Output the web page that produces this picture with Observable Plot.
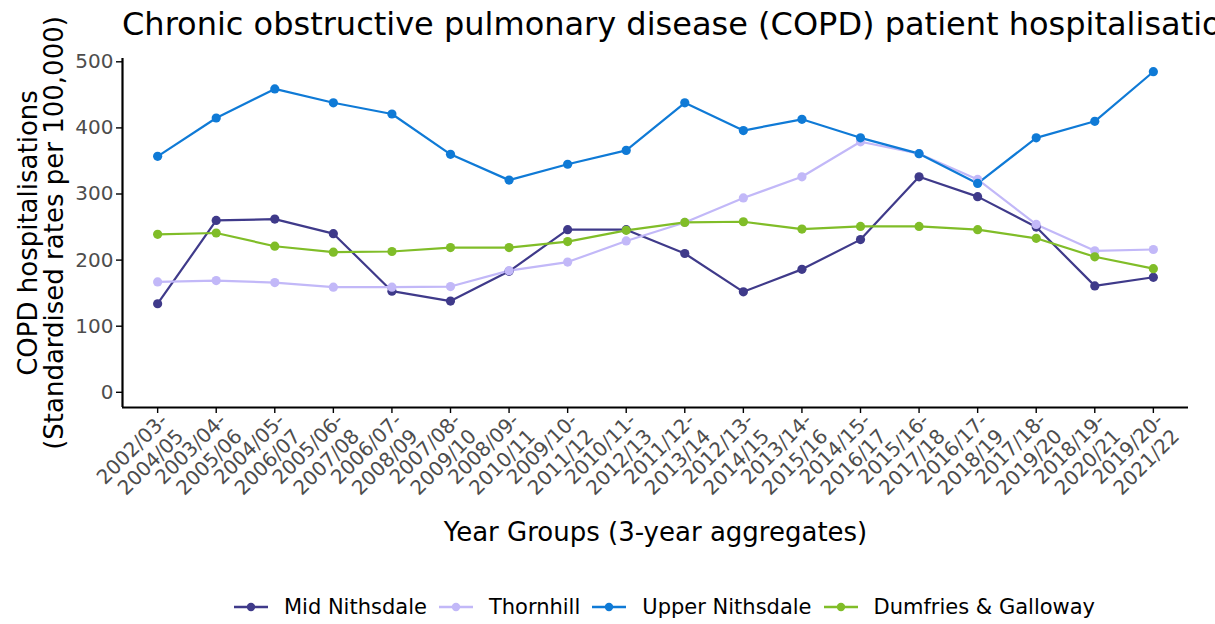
<!DOCTYPE html>
<html>
<head>
<meta charset="utf-8">
<script src="https://cdn.jsdelivr.net/npm/d3@7"></script>
<script src="https://cdn.jsdelivr.net/npm/@observablehq/plot@0.6"></script>
<style>
  html, body { margin: 0; padding: 0; background: #fff; }
  body { width: 1215px; height: 624px; overflow: hidden; font-family: "DejaVu Sans", sans-serif; }
  #title { height: 50px; box-sizing: border-box; padding: 6px 0 0 122px; font-size: 32px; line-height: 37px; white-space: nowrap; overflow: hidden; color: #000; }
  #chart svg { display: block; overflow: visible; }
  #legend { display: flex; justify-content: center; align-items: center; height: 24px; margin-top: 40px; padding-left: 114px; font-size: 21px; color: #000; }
  .item { display: flex; align-items: center; margin: 0 6px; }
  .item svg { margin-right: 16px; }
</style>
</head>
<body>
<div id="title">Chronic obstructive pulmonary disease (COPD) patient hospitalisations</div>
<div id="chart"></div>
<div id="legend"></div>
<script>
// ---- data ----
const categories = [
  "2002/03-2004/05", "2003/04-2005/06", "2004/05-2006/07", "2005/06-2007/08",
  "2006/07-2008/09", "2007/08-2009/10", "2008/09-2010/11", "2009/10-2011/12",
  "2010/11-2012/13", "2011/12-2013/14", "2012/13-2014/15", "2013/14-2015/16",
  "2014/15-2016/17", "2015/16-2017/18", "2016/17-2018/19", "2017/18-2019/20",
  "2018/19-2020/21", "2019/20-2021/22"
];
const seriesNames = ["Mid Nithsdale", "Thornhill", "Upper Nithsdale", "Dumfries & Galloway"];
const midNithsdale = [134, 260, 262, 240, 153, 138, 183, 246, 246, 210, 152, 186, 231, 326, 296, 250, 161, 174];
const thornhill = [167, 169, 166, 159, 159, 160, 184, 197, 229, 257, 294, 326, 379, 361, 322, 254, 214, 216];
const upperNithsdale = [357, 415, 459, 438, 421, 360, 321, 345, 366, 438, 396, 413, 385, 361, 316, 385, 410, 485];
const dumfriesGalloway = [239, 241, 221, 212, 213, 219, 219, 228, 245, 257, 258, 247, 251, 251, 246, 233, 205, 187];
const seriesColors = ["#3f3a8a", "#c2b8f8", "#0f7ad6", "#80bd28"];
const yTicks = [0, 100, 200, 300, 400, 500];
const yLabel = "COPD hospitalisations\n(Standardised rates per 100,000)";
const xLabel = "Year Groups (3-year aggregates)";

// ---- tidy table ----
const seriesValues = [midNithsdale, thornhill, upperNithsdale, dumfriesGalloway];
const rows = [];
seriesNames.forEach((name, s) => {
  seriesValues[s].forEach((v, i) => rows.push({series: name, idx: i, value: v}));
});
const xLo = -0.6, xHi = categories.length - 1 + 0.6;
const yLo = -23, yHi = 505;

const chart = Plot.plot({
  width: 1215,
  height: 505,
  marginLeft: 122,
  marginRight: 27,
  marginTop: 8,
  marginBottom: 148,
  style: {fontFamily: "DejaVu Sans", background: "white", color: "#000", overflow: "visible"},
  x: {type: "linear", domain: [xLo, xHi]},
  y: {domain: [yLo, yHi]},
  color: {domain: seriesNames, range: seriesColors},
  marks: [
    Plot.axisY({ticks: yTicks, tickSize: 6, tickPadding: 3, fontSize: 20, fill: "#4d4d4d", stroke: "#000", strokeWidth: 1.4, label: null}),
    Plot.axisX({ticks: d3.range(categories.length), tickFormat: i => categories[i].replace("-", "-\n"),
      tickRotate: -45, textAnchor: "end", lineAnchor: "top", lineHeight: 1.12, tickSize: 6, tickPadding: -3,
      fontSize: 20, fill: "#4d4d4d", stroke: "#000", strokeWidth: 1.4, label: null}),
    Plot.ruleY([yLo], {stroke: "#000", strokeWidth: 2.2}),
    Plot.ruleX([xLo], {stroke: "#000", strokeWidth: 2.2}),
    Plot.line(rows, {x: "idx", y: "value", z: "series", stroke: "series", strokeWidth: 2.2}),
    Plot.dot(rows, {x: "idx", y: "value", fill: "series", r: 4.6}),
    Plot.text([yLabel], {frameAnchor: "left", rotate: -90, dx: -81, fontSize: 26, fill: "#000", textAnchor: "middle", lineAnchor: "middle"}),
    Plot.text([xLabel], {frameAnchor: "bottom", dy: 125, fontSize: 26, fill: "#000", textAnchor: "middle", lineAnchor: "middle"})
  ]
});
document.getElementById("chart").appendChild(chart);

// ---- legend ----
const legend = document.getElementById("legend");
seriesNames.forEach((name, s) => {
  const item = document.createElement("div");
  item.className = "item";
  item.innerHTML = `<svg width="34" height="20"><line x1="0" y1="10" x2="34" y2="10" stroke="${seriesColors[s]}" stroke-width="2.4"/><circle cx="17" cy="10" r="4.2" fill="${seriesColors[s]}"/></svg><span>${name}</span>`;
  legend.appendChild(item);
});
</script>
</body>
</html>
